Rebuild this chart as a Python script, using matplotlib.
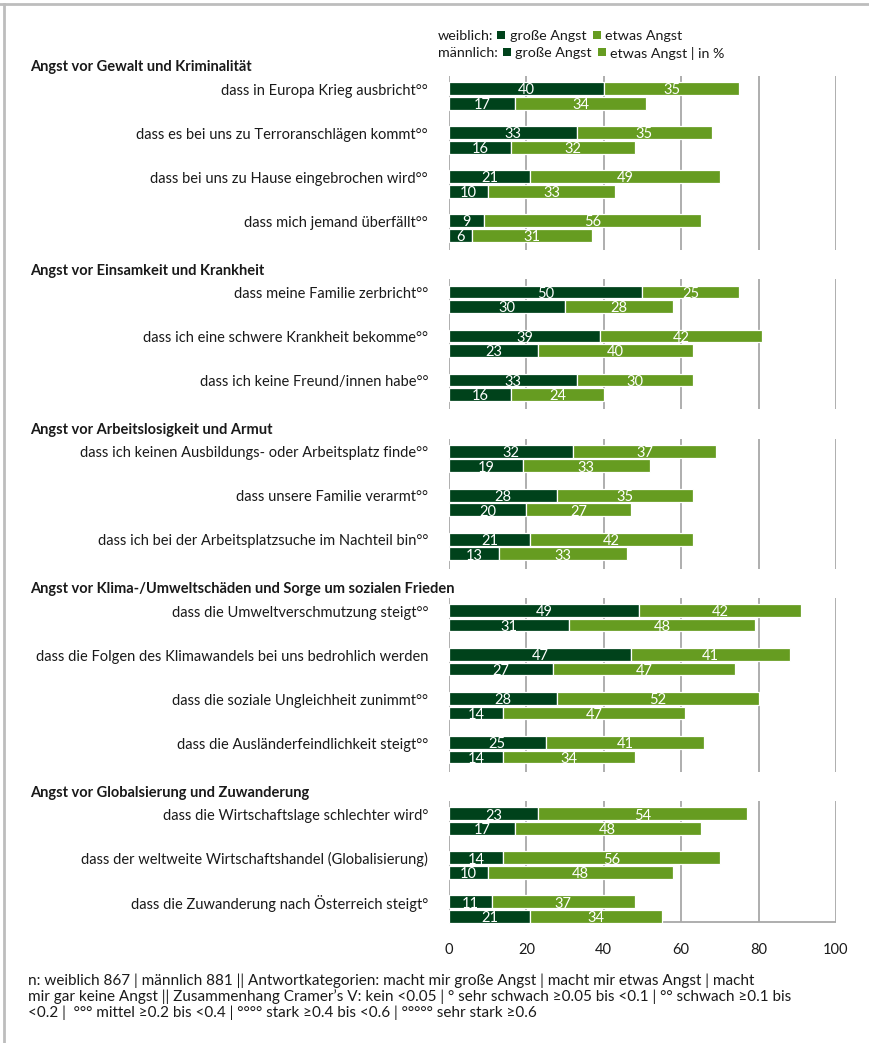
import matplotlib
matplotlib.use("Agg")
import matplotlib.pyplot as plt
from matplotlib.lines import Line2D
from matplotlib.patches import Rectangle
from matplotlib.transforms import blended_transform_factory

plt.rcParams['font.family'] = ['Lato', 'DejaVu Sans']

# group headers and item labels
groups = [
    "Angst vor Gewalt und Kriminalität",
    "Angst vor Einsamkeit und Krankheit",
    "Angst vor Arbeitslosigkeit und Armut",
    "Angst vor Klima-/Umweltschäden und Sorge um sozialen Frieden",
    "Angst vor Globalsierung und Zuwanderung",
]
items = [
    ["dass in Europa Krieg ausbricht°°",
     "dass es bei uns zu Terroranschlägen kommt°°",
     "dass bei uns zu Hause eingebrochen wird°°",
     "dass mich jemand überfällt°°"],
    ["dass meine Familie zerbricht°°",
     "dass ich eine schwere Krankheit bekomme°°",
     "dass ich keine Freund/innen habe°°"],
    ["dass ich keinen Ausbildungs- oder Arbeitsplatz finde°°",
     "dass unsere Familie verarmt°°",
     "dass ich bei der Arbeitsplatzsuche im Nachteil bin°°"],
    ["dass die Umweltverschmutzung steigt°°",
     "dass die Folgen des Klimawandels bei uns bedrohlich werden",
     "dass die soziale Ungleichheit zunimmt°°",
     "dass die Ausländerfeindlichkeit steigt°°"],
    ["dass die Wirtschaftslage schlechter wird°",
     "dass der weltweite Wirtschaftshandel (Globalisierung)",
     "dass die Zuwanderung nach Österreich steigt°"],
]

# values in %, one entry per item (in order)
w_gross = [40, 33, 21, 9, 50, 39, 33, 32, 28, 21, 49, 47, 28, 25, 23, 14, 11]
w_etwas = [35, 35, 49, 56, 25, 42, 30, 37, 35, 42, 42, 41, 52, 41, 54, 56, 37]
m_gross = [17, 16, 10, 6, 30, 23, 16, 19, 20, 13, 31, 27, 14, 14, 17, 10, 21]
m_etwas = [34, 32, 33, 31, 28, 40, 24, 33, 27, 33, 48, 47, 47, 34, 48, 48, 34]

xticks = [0, 20, 40, 60, 80, 100]

footnote = ("n: weiblich 867 | männlich 881 || Antwortkategorien: macht mir große Angst | macht mir etwas Angst | macht\n"
            "mir gar keine Angst || Zusammenhang Cramer\u2019s V: kein <0.05 | ° sehr schwach ≥0.05 bis <0.1 | °° schwach ≥0.1 bis\n"
            "<0.2 |  °°° mittel ≥0.2 bis <0.4 | °°°° stark ≥0.4 bis <0.6 | °°°°° sehr stark ≥0.6")

dark = '#00421b'
light = '#669c21'
grid_c = '#a8a8a8'
txt_c = '#1a1a1a'

W, H = 870, 1043
fig = plt.figure(figsize=(W / 100, H / 100), dpi=100)

# axes: x 0..100 -> px 449..836, y px 60..930
ax = fig.add_axes([449 / W, 1 - 930 / H, (836 - 449) / W, 870 / H])
ax.set_xlim(0, 100)
ax.set_ylim((930 - 96) / 44, (60 - 96) / 44)
for s in ax.spines.values():
    s.set_visible(False)
ax.set_yticks([])
ax.set_xticks(xticks)
ax.tick_params(axis='x', length=0, pad=9, labelsize=10.5, colors=txt_c)

gap = 0.62
off = 0.165
bh = 0.29
hdr_tr = blended_transform_factory(fig.transFigure, ax.transData)

pos = 0.0
k = 0
for gi, (g, labels) in enumerate(zip(groups, items)):
    ys = []
    for lab in labels:
        y = pos
        ys.append(y)
        for yy, a, b in [(y - off, w_gross[k], w_etwas[k]), (y + off, m_gross[k], m_etwas[k])]:
            ax.barh(yy, a, height=bh, color=dark, edgecolor='white', linewidth=0.9, zorder=3)
            ax.barh(yy, b, left=a, height=bh, color=light, edgecolor='white', linewidth=0.9, zorder=3)
            ax.text(a / 2, yy + 0.04, str(a), color='white', ha='center', va='center', fontsize=10.5, zorder=4)
            ax.text(a + b / 2, yy + 0.04, str(b), color='white', ha='center', va='center', fontsize=10.5, zorder=4)
        ax.text(-5.4, y - 0.12, lab, ha='right', va='center', fontsize=10.5, color=txt_c)
        pos += 1
        k += 1
    last = gi == len(groups) - 1
    top = ys[0] - 0.45
    bot = ys[-1] + (0.3 if last else 0.5)
    ax.vlines(xticks, top, bot, color=grid_c, linewidth=1.3, zorder=1)
    if last:
        ax.hlines(bot, 0, 100, color=grid_c, linewidth=1.3, zorder=1)
    ax.text(30 / W, top - 0.2, g, transform=hdr_tr, ha='left', va='center',
            fontsize=10.5, fontweight='bold', color=txt_c)
    pos += gap

# legend built from text pieces and small squares
def px(x, y):
    return x / W, 1 - y / H

leg_text = [
    (438, 36, "weiblich:"), (510, 36, "große Angst"), (605, 36, "etwas Angst"),
    (438, 53, "männlich:"), (515, 53, "große Angst"), (610, 53, "etwas Angst | in %"),
]
for x, y, t in leg_text:
    fig.text(*px(x, y), t, color=txt_c, fontsize=10.3, ha='left', va='center')

leg_sq = [(497, 36, dark), (593, 36, light), (503, 53, dark), (598, 53, light)]
for x, y, c in leg_sq:
    fig.add_artist(Rectangle(px(x, y + 3), 8 / W, 8 / H, transform=fig.transFigure,
                             facecolor=c, edgecolor='none'))

fig.text(*px(28, 997), footnote, ha='left', va='center', fontsize=11,
         color=txt_c, linespacing=1.12)

# frame lines (top and left)
fig.add_artist(Line2D([0, 1], [1 - 4 / H, 1 - 4 / H], transform=fig.transFigure, color='#bdbdbd', lw=2))
fig.add_artist(Line2D([4 / W, 4 / W], [0, 1 - 4 / H], transform=fig.transFigure, color='#bdbdbd', lw=2))

fig.savefig('out.png', dpi=100)
